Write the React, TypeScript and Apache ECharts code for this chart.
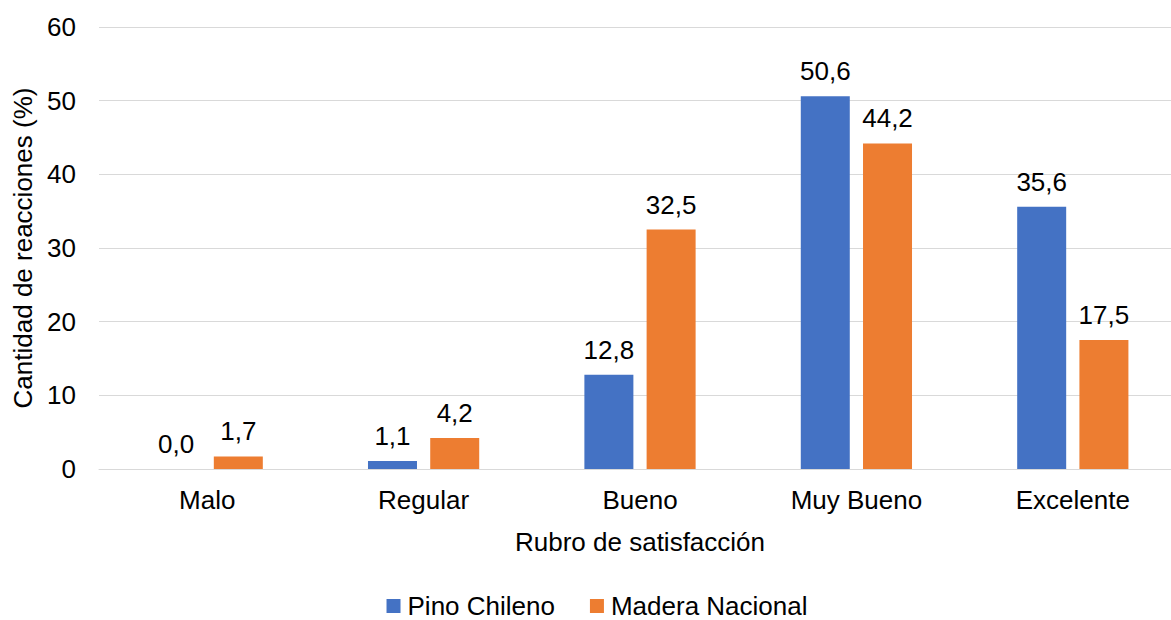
import React, { useEffect, useRef } from "react";
import * as echarts from "echarts";

const categories = ["Malo", "Regular", "Bueno", "Muy Bueno", "Excelente"];
const pinoChileno = [0.0, 1.1, 12.8, 50.6, 35.6];
const maderaNacional = [1.7, 4.2, 32.5, 44.2, 17.5];
const seriesNames = ["Pino Chileno", "Madera Nacional"];

const FONT = "'Liberation Sans', Arial, sans-serif";
const FS = 26;

export default function App() {
  const ref = useRef<HTMLDivElement>(null);
  useEffect(() => {
    document.body.style.margin = "0";
    const chart = echarts.init(ref.current!, undefined, { renderer: "svg" });
    const fmt = (p: any) => Number(p.value).toFixed(1).replace(".", ",");
    chart.setOption({
      animation: false,
      textStyle: { fontFamily: FONT },
      grid: { left: 99, top: 27, right: 13, height: 442, containLabel: false },
      legend: {
        top: 588,
        left: "center",
        itemWidth: 14,
        itemHeight: 14,
        itemGap: 35,
        icon: "rect",
        textStyle: { fontFamily: FONT, fontSize: FS, color: "#000", padding: [0, 0, 0, 2] },
        data: seriesNames,
      },
      xAxis: {
        type: "category",
        data: categories,
        name: "Rubro de satisfacción",
        nameLocation: "middle",
        nameGap: 60,
        nameTextStyle: { fontFamily: FONT, fontSize: FS, color: "#000" },
        axisLine: { show: true, lineStyle: { color: "#d9d9d9", width: 1 } },
        axisTick: { show: false },
        axisLabel: { fontFamily: FONT, fontSize: FS, color: "#000", margin: 18 },
      },
      yAxis: {
        type: "value",
        min: 0,
        max: 60,
        interval: 10,
        name: "Cantidad de reacciones (%)",
        nameLocation: "middle",
        nameGap: 62,
        nameTextStyle: { fontFamily: FONT, fontSize: FS, color: "#000" },
        axisLine: { show: false },
        axisTick: { show: false },
        axisLabel: { fontFamily: FONT, fontSize: FS, color: "#000", margin: 23 },
        splitLine: { lineStyle: { color: "#d9d9d9", width: 1 } },
      },
      series: [
        {
          name: seriesNames[0],
          type: "bar",
          data: pinoChileno,
          barWidth: 49,
          barGap: "27%",
          itemStyle: { color: "#4472C4" },
          label: { show: true, position: "top", distance: 12, formatter: fmt, fontFamily: FONT, fontSize: FS, color: "#000" },
        },
        {
          name: seriesNames[1],
          type: "bar",
          data: maderaNacional,
          barWidth: 49,
          barGap: "27%",
          itemStyle: { color: "#ED7D31" },
          label: { show: true, position: "top", distance: 12, formatter: fmt, fontFamily: FONT, fontSize: FS, color: "#000" },
        },
      ],
    });
    return () => chart.dispose();
  }, []);
  return (
    <div style={{ width: 1171, height: 620, overflow: "hidden", position: "relative" }}>
      <div ref={ref} style={{ width: 1194, height: 620 }} />
    </div>
  );
}
